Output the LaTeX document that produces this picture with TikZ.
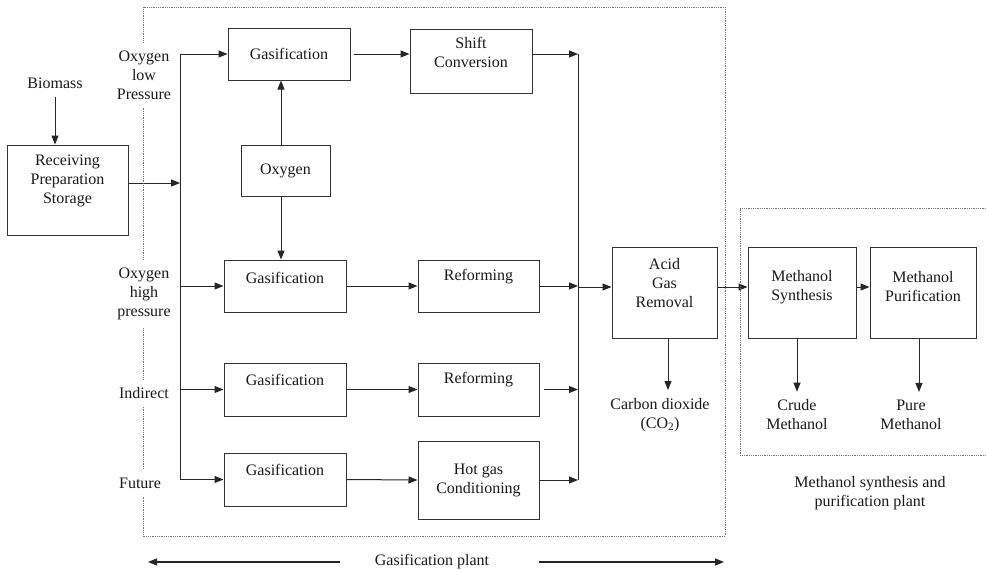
\documentclass[tikz,border=0pt]{standalone}
\usepackage{fontspec}
\setmainfont{Liberation Serif}
\usetikzlibrary{arrows.meta,calc}

\tikzset{
  boite/.style={draw=black!80, line width=1pt, inner sep=0pt},
  fleche/.style={draw=black!85, line width=1pt, -{Triangle[length=9pt,width=7pt]}},
  trait/.style={draw=black!85, line width=1pt},
  cadre/.style={draw=black!55, line width=0.8pt, densely dotted},
  texte/.style={align=center, text=black!90, inner sep=0pt},
  etiquette/.style={align=center, text=black!90, inner xsep=2pt, inner ysep=8pt},
}

\begin{document}
\begin{tikzpicture}[x=1pt, y=-1pt, font=\fontsize{16}{19}\selectfont]
    \useasboundingbox (0,0) rectangle (986,570);

    % Reception de la biomasse
    \node[etiquette] (biomass) at (55,83) {Biomass};
    \node[boite, minimum width=121, minimum height=90,
          label={[texte,yshift=9pt]center:Receiving\\Preparation\\Storage}] (recep) at (67.5,190) {};
    \draw[fleche] (biomass.south) -- (biomass.south |- recep.north);

    % Types de gazeification
    \node[etiquette] (oxbp) at (144,75) {Oxygen\\low\\Pressure};
    \node[etiquette] (oxhp) at (144,294) {Oxygen\\high\\pressure};
    \node[etiquette] (indir) at (144,393) {Indirect};
    \node[etiquette] (fut) at (140,483) {Future};

    % Blocs de procede
    \node[boite, minimum width=122, minimum height=52,
          label={[texte]center:Gasification}] (gaz1) at (289,54) {};
    \node[boite, minimum width=122, minimum height=64,
          label={[texte,yshift=8.5pt]center:Shift\\Conversion}] (shift) at (471,61) {};
    \node[boite, minimum width=89, minimum height=51,
          label={[texte]center:Oxygen}] (oxy) at (285.5,170.5) {};
    \node[boite, minimum width=122, minimum height=52,
          label={[texte,yshift=8pt]center:Gasification}] (gaz2) at (285,286) {};
    \node[boite, minimum width=121, minimum height=52,
          label={[texte,yshift=9pt]center:Reforming}] (ref1) at (478.5,286) {};
    \node[boite, minimum width=122, minimum height=53,
          label={[texte,yshift=9.5pt]center:Gasification}] (gaz3) at (285,389.5) {};
    \node[boite, minimum width=121, minimum height=53,
          label={[texte,yshift=9.5pt]center:Reforming}] (ref2) at (478.5,389.5) {};
    \node[boite, minimum width=122, minimum height=53,
          label={[texte,yshift=9.5pt]center:Gasification}] (gaz4) at (285,479.5) {};
    \node[boite, minimum width=121, minimum height=78,
          label={[texte]center:Hot gas\\Conditioning}] (hot) at (478.5,480) {};
    \node[boite, minimum width=105, minimum height=91,
          label={[texte,yshift=9.5pt]center:Acid\\Gas\\Removal}] (acid) at (664.5,292.5) {};
    \node[boite, minimum width=108, minimum height=91,
          label={[texte,yshift=5.5pt]center:Methanol\\Synthesis}] (ms) at (802,292.5) {};
    \node[boite, minimum width=106, minimum height=91,
          label={[texte,yshift=5.5pt]center:Methanol\\Purification}] (mp) at (923,292.5) {};

    % Produits
    \node[etiquette] (co2) at (660,415) {Carbon dioxide\\(CO\textsubscript{2})};
    \node[etiquette] (crude) at (797,415) {Crude\\Methanol};
    \node[etiquette] (pure) at (911,415) {Pure\\Methanol};

    % Distribution vers les gazeifieurs
    \coordinate (bus) at (180,183);
    \draw[fleche] (recep.east |- bus) -- (bus);
    \draw[trait] (bus |- gaz1) -- (bus |- gaz4);
    \draw[fleche] (bus |- gaz1) -- (gaz1.west);
    \draw[fleche] (bus |- gaz2) -- (gaz2.west);
    \draw[fleche] (bus |- gaz3) -- (gaz3.west);
    \draw[fleche] (bus |- gaz4) -- (gaz4.west);

    % Oxygene
    \draw[fleche] ([xshift=-4.5pt]oxy.north) -- ([xshift=-4.5pt]oxy.north |- gaz1.south);
    \draw[fleche] ([xshift=-4.5pt]oxy.south) -- ([xshift=-4.5pt]oxy.south |- gaz2.north);

    % Traitement du gaz
    \draw[fleche, shorten <=3pt] (gaz1.east) -- (shift.west |- gaz1);
    \draw[fleche] (gaz2.east) -- (ref1.west);
    \draw[fleche] (gaz3.east) -- (ref2.west);
    \draw[fleche] (gaz4.east) -- (hot.west);

    % Collecteur vers l'elimination des gaz acides
    \coordinate (coll) at (578,287);
    \draw[trait] (coll |- gaz1) -- (coll |- hot);
    \draw[fleche] (shift.east |- gaz1) -- (coll |- gaz1);
    \draw[fleche] (ref1.east) -- (coll |- ref1);
    \draw[fleche, shorten <=4pt] (ref2.east) -- (coll |- ref2);
    \draw[fleche] (hot.east) -- (coll |- hot);
    \draw[fleche] (coll) -- (coll -| acid.west);

    % Synthese et purification du methanol
    \draw[fleche] (acid.east |- coll) -- (ms.west |- coll);
    \draw[fleche] (ms.east |- coll) -- (mp.west |- coll);
    \draw[fleche] ([xshift=3.5pt]acid.south) -- ([xshift=3.5pt]acid.south |- co2.north);
    \draw[fleche] (crude.north |- ms.south) -- (crude.north);
    \draw[fleche] ([xshift=-4pt]mp.south) -- ([xshift=-4pt]mp.south |- pure.north);

    % Cadre de l'unite de gazeification
    \coordinate (gHG) at (143,7);
    \coordinate (gHD) at (725,7);
    \coordinate (gBD) at (725,536);
    \coordinate (gBG) at (143,536);
    \draw[cadre] (gHG |- oxbp.north) -- (gHG) -- (gHD) -- (gBD) -- (gBG) -- (gBG |- fut.south);
    \draw[cadre] (gHG |- oxbp.south) -- (gHG |- oxhp.north);
    \draw[cadre] (gHG |- oxhp.south) -- (gHG |- indir.north);
    \draw[cadre] (gHG |- indir.south) -- (gHG |- fut.north);

    % Cadre de l'unite methanol
    \coordinate (mHD) at (986,208);
    \coordinate (mHG) at (740,208);
    \coordinate (mBG) at (740,455);
    \coordinate (mBD) at (986,455);
    \draw[cadre] (mHD) -- (mHG) -- (mBG) -- (mBD);
    \node[texte] (msp) at (870,493) {Methanol synthesis and\\purification plant};

    % Legende de l'unite de gazeification
    \node[texte] (gp) at (432,562) {Gasification plant};
    \coordinate (flG) at (148,562);
    \coordinate (flD) at (724,562);
    \draw[fleche, line width=1.3pt] ([xshift=-35pt]gp.west) -- (flG);
    \draw[fleche, line width=1.3pt] ([xshift=50pt]gp.east) -- (flD);
\end{tikzpicture}
\end{document}
